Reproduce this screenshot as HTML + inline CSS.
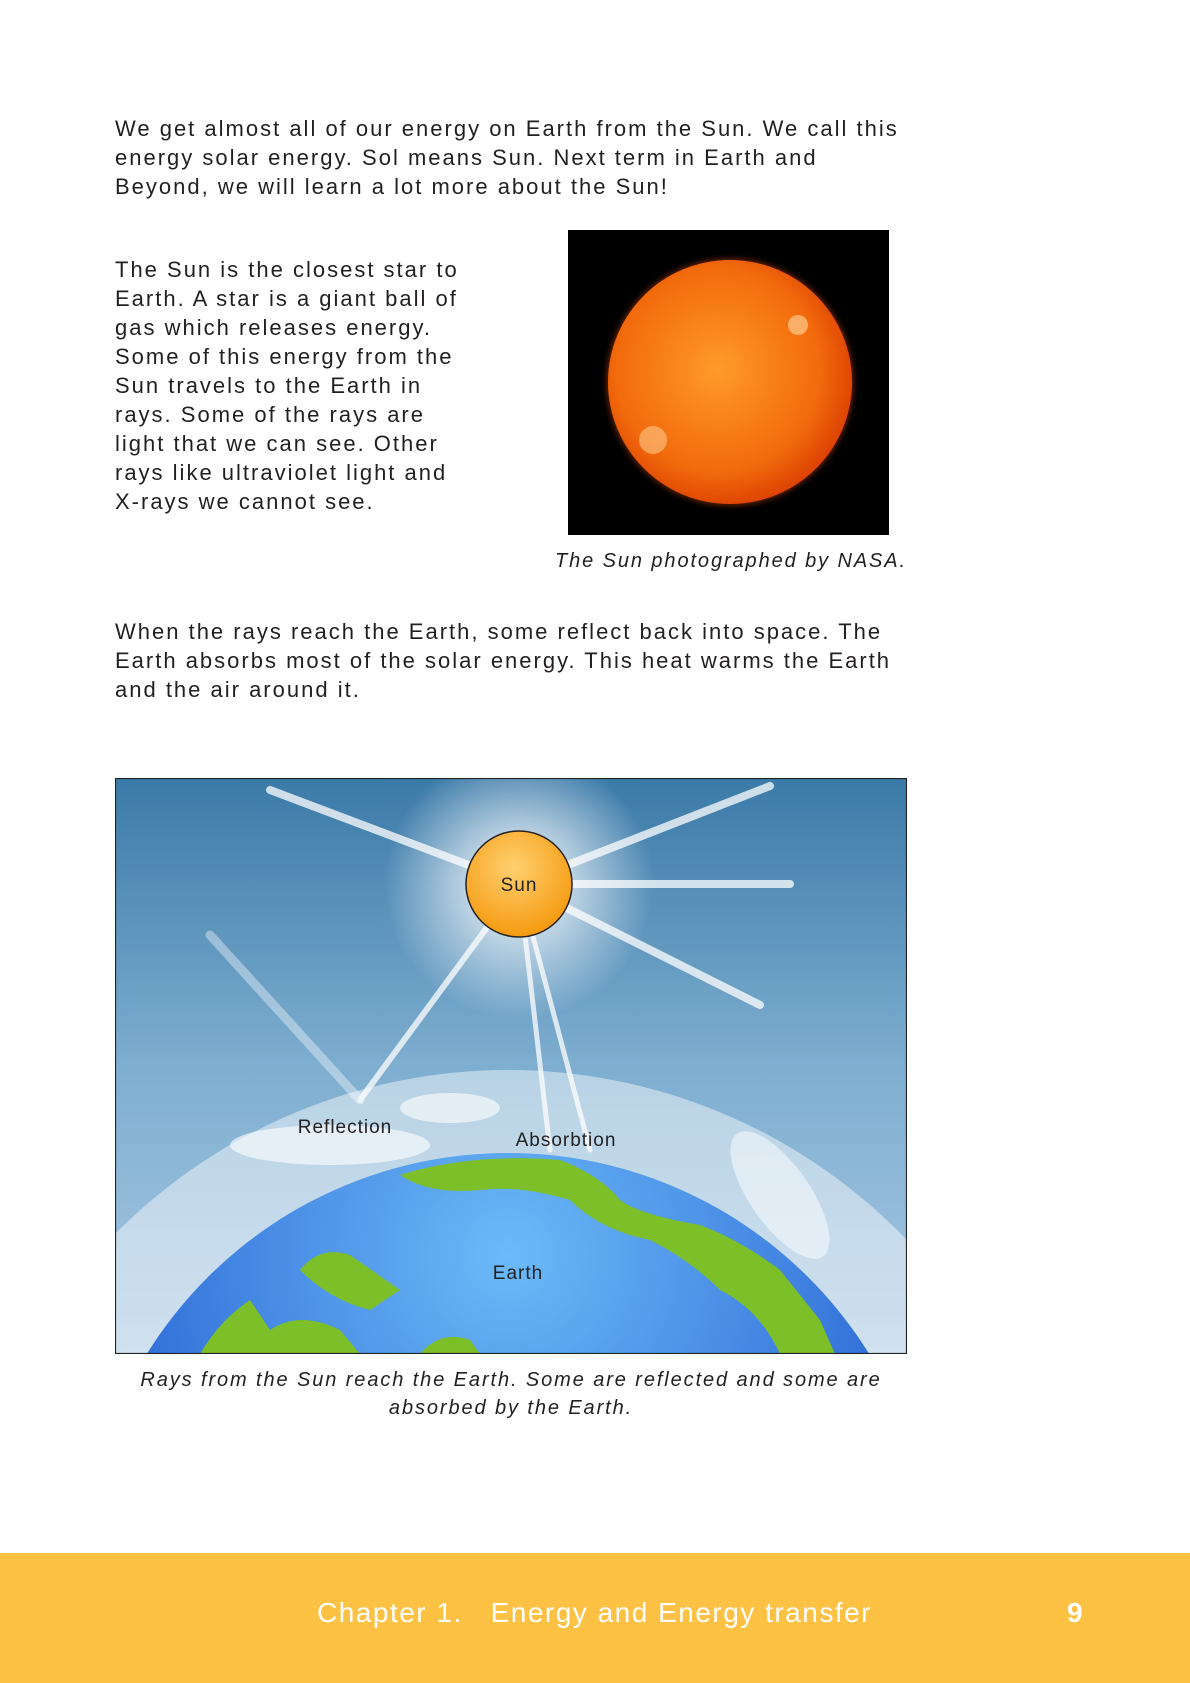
<!DOCTYPE html>
<html style="overflow:hidden;height:1683px"><head><meta charset="utf-8">
<style>
body{margin:0;width:1190px;height:1683px;position:relative;background:#fff;font-family:"Liberation Sans",sans-serif;color:#231f20;overflow:hidden}
.p{position:absolute;font-size:22px;line-height:29px;margin:0;letter-spacing:2px;white-space:nowrap}
.cap{position:absolute;font-size:20px;font-style:italic;line-height:28px;margin:0;letter-spacing:1.9px;white-space:nowrap}
</style></head><body>
<p class="p" style="left:115px;top:114px">We get almost all of our energy on Earth from the Sun. We call this<br>energy solar energy. Sol means Sun. Next term in Earth and<br>Beyond, we will learn a lot more about the Sun!</p>
<p class="p" style="left:115px;top:255px">The Sun is the closest star to<br>Earth. A star is a giant ball of<br>gas which releases energy.<br>Some of this energy from the<br>Sun travels to the Earth in<br>rays. Some of the rays are<br>light that we can see. Other<br>rays like ultraviolet light and<br>X-rays we cannot see.</p>
<svg style="position:absolute;left:568px;top:230px" width="321" height="305">
<defs><radialGradient id="sg" cx="0.45" cy="0.45" r="0.6"><stop offset="0" stop-color="#ff9a2a"/><stop offset="0.7" stop-color="#f26a0c"/><stop offset="1" stop-color="#d83a00"/></radialGradient>
<radialGradient id="gl"><stop offset="0.9" stop-color="#ff5500" stop-opacity="0.8"/><stop offset="1" stop-color="#000" stop-opacity="0"/></radialGradient></defs>
<rect width="321" height="305" fill="#000"/>
<circle cx="162" cy="152" r="130" fill="url(#gl)"/>
<circle cx="162" cy="152" r="122" fill="url(#sg)"/>
<circle cx="230" cy="95" r="10" fill="#ffd9a0" opacity="0.6"/>
<circle cx="85" cy="210" r="14" fill="#ffd9a0" opacity="0.5"/>
</svg>
<p class="cap" style="right:283px;top:547px;text-align:right">The Sun photographed by NASA.</p>
<p class="p" style="left:115px;top:617px">When the rays reach the Earth, some reflect back into space. The<br>Earth absorbs most of the solar energy. This heat warms the Earth<br>and the air around it.</p>
<svg style="position:absolute;left:115px;top:778px" width="792" height="576" viewBox="115 778 792 576">
<defs>
<linearGradient id="sky" x1="0" y1="0" x2="0" y2="1"><stop offset="0" stop-color="#3b7aa8"/><stop offset="0.5" stop-color="#7eaed0"/><stop offset="1" stop-color="#a9c8e2"/></linearGradient>
<radialGradient id="sun" cx="0.45" cy="0.35" r="0.65"><stop offset="0" stop-color="#ffd070"/><stop offset="1" stop-color="#f59a10"/></radialGradient>
<radialGradient id="earth" cx="0.5" cy="0.12" r="0.7"><stop offset="0" stop-color="#6cbaf8"/><stop offset="1" stop-color="#1247c8"/></radialGradient>
<radialGradient id="halo"><stop offset="0.4" stop-color="#fff" stop-opacity="0.6"/><stop offset="1" stop-color="#fff" stop-opacity="0"/></radialGradient>
<clipPath id="box"><rect x="115" y="778" width="792" height="576"/></clipPath>
</defs>
<g clip-path="url(#box)">
<rect x="115" y="778" width="792" height="576" fill="url(#sky)"/>
<circle cx="519" cy="884" r="135" fill="url(#halo)"/>
<g stroke="#fff" stroke-linecap="round" opacity="0.75">
<line x1="519" y1="884" x2="270" y2="790" stroke-width="8"/>
<line x1="519" y1="884" x2="770" y2="786" stroke-width="8"/>
<line x1="519" y1="884" x2="790" y2="884" stroke-width="8"/>
<line x1="519" y1="884" x2="760" y2="1005" stroke-width="8"/>
<line x1="519" y1="884" x2="360" y2="1100" stroke-width="6"/>
<line x1="519" y1="884" x2="550" y2="1150" stroke-width="5"/>
<line x1="519" y1="884" x2="590" y2="1150" stroke-width="5"/>
<line x1="360" y1="1100" x2="210" y2="935" stroke-width="9" opacity="0.5"/>
</g>
<circle cx="508" cy="1623" r="553" fill="#fff" opacity="0.45"/>
<ellipse cx="330" cy="1145" rx="100" ry="20" fill="#fff" opacity="0.6"/>
<ellipse cx="450" cy="1108" rx="50" ry="15" fill="#fff" opacity="0.6"/>
<ellipse cx="780" cy="1195" rx="30" ry="75" fill="#fff" opacity="0.5" transform="rotate(-35 780 1195)"/>
<circle cx="508" cy="1578" r="425" fill="url(#earth)"/>
<g fill="#7cbf28">
<path d="M400 1175 Q470 1153 560 1160 Q600 1175 620 1200 Q640 1215 700 1225 Q740 1240 780 1270 L820 1320 L835 1354 L780 1354 Q760 1310 720 1290 Q690 1260 650 1240 Q600 1230 570 1200 Q520 1185 480 1190 Q430 1195 400 1175Z"/>
<path d="M300 1270 Q320 1245 350 1255 L400 1290 L370 1310 Q330 1300 300 1270Z"/>
<path d="M200 1354 Q220 1320 250 1300 L270 1330 Q300 1310 340 1330 L360 1354Z"/>
<path d="M420 1354 Q440 1330 470 1340 L480 1354Z"/>
</g>
<circle cx="519" cy="884" r="53" fill="url(#sun)" stroke="#222" stroke-width="1.5"/>
<g font-family="Liberation Sans, sans-serif" font-size="19" fill="#222" text-anchor="middle" letter-spacing="1">
<text x="519" y="891">Sun</text>
<text x="345" y="1133">Reflection</text>
<text x="566" y="1146">Absorbtion</text>
<text x="518" y="1279">Earth</text>
</g>
</g>
<rect x="115.5" y="778.5" width="791" height="575" fill="none" stroke="#222" stroke-width="1.2"/>
</svg>
<p class="cap" style="left:115px;top:1366px;width:792px;text-align:center;white-space:normal">Rays from the Sun reach the Earth. Some are reflected and some are<br>absorbed by the Earth.</p>
<div style="position:absolute;left:0;top:1553px;width:1190px;height:130px;background:#fdc144">
<div style="position:absolute;left:317px;top:44px;font-size:28px;color:#fff;letter-spacing:1.5px;white-space:nowrap">Chapter 1.&nbsp;&nbsp; Energy and Energy transfer</div>
<div style="position:absolute;left:1067px;top:44px;font-size:28px;color:#fff;font-weight:bold">9</div>
</div>
</body></html>
